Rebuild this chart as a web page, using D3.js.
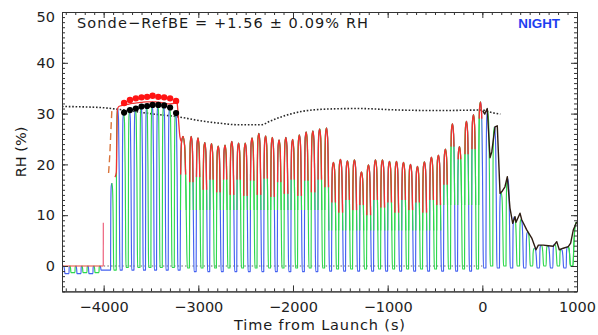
<!DOCTYPE html>
<html><head><meta charset="utf-8">
<script src="https://cdn.jsdelivr.net/npm/d3@7"></script>
<style>
body{margin:0;background:#fff;}
svg{display:block;}
text{font-family:"DejaVu Sans",sans-serif;}
</style></head><body>
<svg id="c" width="598" height="335"></svg>
<script>
// ---------------- data ----------------
const xDomain = [-4440, 1000];
const yDomain = [-5, 50];
const xTickValues = [-4000, -3000, -2000, -1000, 0, 1000];
const yTickValues = [0, 10, 20, 30, 40, 50];
const titleText = "Sonde\u2212RefBE = +1.56 \u00b1 0.09% RH";
const nightText = "NIGHT";
const xLabel = "Time from Launch (s)";
const yLabel = "RH (%)";

// humidity sensor trace: dips (heating cycles) and the peak reached after each dip
const traceStartLevel = 0;
const traceEnd = 1000;
const dipTime = [
  -4387, -4324, -4260, -4197, -4134, -4070,
  -3977, -3880,
  -3816, -3752, -3692, -3629, -3570, -3513, -3453, -3393, -3330, -3266, -3204,
  -3105, -3034, -2962, -2891, -2820, -2748, -2677, -2605, -2534, -2463, -2391,
  -2320, -2248, -2177, -2106, -2034, -1963, -1891, -1820, -1749, -1677,
  -1604, -1530, -1456, -1382, -1308, -1234, -1160, -1086, -1012, -938, -864,
  -790, -716, -643, -569, -495, -421, -347, -273, -199, -125, -51,
  25, 97, 168, 237, 308, 380, 449, 520, 592, 661, 732, 804, 873, 944
];
const dipHalf = [
  21, 21, 21, 21, 21, 21,
  50, 13,
  12, 12, 12, 12, 12, 12, 12, 12, 12, 12, 12,
  11, 11, 11, 11, 11, 11, 11, 11, 11, 11, 11, 11, 11, 11, 11, 11, 11, 11, 11, 11, 11,
  11, 11, 11, 11, 11, 11, 11, 11, 11, 11, 11, 11, 11, 11, 11, 11, 11, 11, 11, 11, 11, 11,
  13, 13, 13, 13, 13, 13, 13, 13, 13, 13, 13, 13, 13, 13
];
const dipLow = [
  -1.5, -1.3, -1.5, -1.3, -1.5, -1.3,
  -0.8, -0.8,
  -0.8, -0.3, -0.8, -0.3, -0.8, -0.3, -0.8, -0.3, -0.8, -0.3, -0.8,
  -0.4, -1.1, -0.4, -1.1, -0.4, -1.1, -0.4, -1.1, -0.4, -1.1, -0.4, -1.1, -0.4, -1.1, -0.4, -1.1, -0.4, -1.1, -0.4, -1.1, -0.4,
  -1.0, -0.6, -1.0, -0.6, -1.0, -0.6, -1.0, -0.6, -1.0, -0.6, -1.0, -0.6, -1.0, -0.6, -1.0, -0.6, -1.0, -0.6, -1.0, -0.6, -1.0, -0.6,
  -0.4, 0.0, -0.4, 0.0, -0.4, 0.0, -0.4, 0.0, -0.4, 0.0, -0.4, 0.0, -0.4, 0.0
];
const peakAfter = [
  0, 0, 0, 0, 0, 0,
  16.3, 31.0,
  30.2, 30.7, 31.0, 31.4, 31.5, 31.7, 31.7, 31.6, 31.2, 30.1, 25.5,
  25.5, 25.2, 24.3, 24.1, 23.6, 23.8, 24.5, 24.2, 24.2, 25.2, 26.1, 25.6, 25.3, 24.8, 25.3, 24.9, 25.8, 26.4, 26.6, 27.0, 27.2,
  20.4, 21.0, 20.7, 20.9, 18.5, 19.9, 20.9, 20.9, 20.6, 20.6, 20.4, 20.0, 19.6, 20.5, 21.4, 21.8, 23.0, 28.0, 23.5, 28.5, 29.8, 32.3,
  30.5, 27.4, 14.5, 17.2, 9.7, 9.2, 6.7, 3.5, 4.1, 4.0, 4.3, 3.3, 3.8, 8.5
];

// level above which each pulse (after dip index redPulseFirst + k) is drawn red
const redPulseFirst = 18;
const redPulseFrom = [
  18.0, 16.5, 17.5, 15.0, 17.0, 14.5, 17.0, 14.0, 17.0, 13.8, 16.8, 14.0, 17.2, 13.6, 16.5, 14.2, 17.0, 13.8, 16.8, 14.5, 17.0, 15.5,
  12.5, 10.5, 13.0, 11.0, 12.0, 10.0, 13.0, 11.5, 12.5, 10.5, 13.0, 11.0, 12.5, 10.5, 13.0, 12.0,
  16.0, 23.5, 21.0, 22.0, 23.0, 29.0
];
// levels above which all lines are green (below: alternating sensors)
const greenZoneStart = [-3195, -1630, -420];
const greenZoneEnd = [-1630, -420, -10];
const greenZoneFrom = [11, 7, 12];

// red reported-RH line before the profile
const redBaseT = [-4440, -4005];
const redBaseV = [0, 0];
const spikeT = [-4004, -4003];
const spikeV = [0, 8.5];
const redEnvT = [-3880, -3866, -3855, -3840, -3800, -3750, -3700, -3650, -3600, -3550, -3500, -3450, -3400, -3350, -3300, -3260, -3235, -3222, -3210, -3195, -3180];
const redEnvV = [17.5, 18.5, 30.8, 31.4, 31.6, 31.8, 32.0, 32.1, 32.2, 32.3, 32.3, 32.3, 32.2, 32.0, 31.9, 32.0, 32.6, 31.8, 29.0, 25.5, 24.5];

// dashed line
const dashT = [-3948, -3935, -3925, -3912];
const dashV = [18.3, 22.0, 26.0, 31.2];

// dotted reference line
const refT = [-4440, -4039, -3827, -3510, -3194, -2982, -2771, -2581, -2338, -2232, -2084, -1915, -1630, -1313, -870, -447, -4, 100, 190];
const refV = [31.4, 31.2, 30.8, 30.0, 29.3, 28.6, 28.1, 27.8, 27.8, 28.6, 29.6, 30.4, 30.9, 31.0, 30.7, 30.6, 30.7, 30.2, 29.9];

// dotted zero line
const zeroT = [-4000, 0];
const zeroV = [0, 0];

// post-launch line
const postT = [4, 25, 52, 81, 100, 134, 158, 187, 205, 239, 264, 292, 321, 345, 356, 398, 416, 469, 522, 567, 592, 645, 697, 750, 786, 813, 855, 908, 933, 961, 997];
const postV = [30.6, 29.9, 31.0, 21.3, 22.5, 27.4, 27.6, 14.3, 14.6, 15.6, 17.6, 11.4, 8.4, 9.7, 8.6, 10.4, 9.1, 7.1, 5.5, 3.2, 4.1, 4.1, 4.0, 3.9, 4.8, 3.2, 3.5, 3.8, 4.5, 7.1, 8.7];

// plateau dots
const dotT = [-3784, -3722, -3660, -3600, -3541, -3483, -3423, -3361, -3298, -3235];
const redDotV = [32.1, 32.7, 33.0, 33.2, 33.3, 33.5, 33.3, 33.2, 33.0, 32.5];
const blackDotV = [30.2, 30.7, 31.0, 31.4, 31.5, 31.7, 31.7, 31.6, 31.2, 30.1];

// ---------------- drawing ----------------
const svg = d3.select("#c");
const m = {l: 62, r: 577, t: 12, b: 291.4};
const x = d3.scaleLinear().domain(xDomain).range([m.l, m.r]);
const y = d3.scaleLinear().domain(yDomain).range([m.b, m.t]);

const BLUE = "#4462f0", GREEN = "#2ed84e", RED = "#f23030";

const defs = svg.append("defs");
defs.append("clipPath").attr("id", "plotClip").append("rect")
  .attr("x", m.l).attr("y", m.t).attr("width", m.r - m.l).attr("height", m.b - m.t);
const gcp = defs.append("clipPath").attr("id", "greenClip");
greenZoneStart.forEach((t0, i) => {
  gcp.append("rect").attr("x", x(t0)).attr("y", m.t)
    .attr("width", x(greenZoneEnd[i]) - x(t0)).attr("height", y(greenZoneFrom[i]) - m.t);
});
const rcp = defs.append("clipPath").attr("id", "redClip");
redPulseFrom.forEach((lev, k) => {
  const i = redPulseFirst + k;
  const t0 = dipTime[i], t1 = dipTime[i + 1];
  rcp.append("rect").attr("x", x(t0)).attr("y", m.t)
    .attr("width", x(t1) - x(t0)).attr("height", y(lev) - m.t);
});

// build sensor trace
const n = dipTime.length;
const pts = [], tops = [];
for (let i = 0; i <= n; i++) {
  const a = i === 0 ? xDomain[0] : dipTime[i - 1] + dipHalf[i - 1];
  const p = i === 0 ? traceStartLevel : peakAfter[i - 1];
  const l0 = i === 0 ? traceStartLevel : dipLow[i - 1];
  if (i < n) {
    const b = dipTime[i] - dipHalf[i];
    const l1 = dipLow[i];
    const w = b - a, d0 = p - l0, d1 = p - l1;
    [[a, l0], [a + 0.07 * w, l0 + 0.72 * d0], [a + 0.2 * w, p - 0.04 * d0], [a + 0.4 * w, p],
     [a + 0.62 * w, p - 0.07 * d1], [a + 0.8 * w, l1 + 0.6 * d1], [a + 0.93 * w, l1 + 0.12 * d1], [b, l1]]
      .forEach(q => pts.push(q));
    tops.push(a + 0.4 * w);
  } else {
    [[a, l0], [a + 12, l0 + 0.6 * (p - l0)], [a + 30, p], [traceEnd, p]].forEach(q => pts.push(q));
    tops.push(traceEnd);
  }
}

const curveLine = d3.line().x(d => x(d[0])).y(d => y(d[1])).curve(d3.curveMonotoneX);
const straight = d3.line().x(d => x(d[0])).y(d => y(d[1]));
const zip = (T, V) => T.map((t, i) => [t, V[i]]);

const plot = svg.append("g").attr("clip-path", "url(#plotClip)");

// dotted zero line
plot.append("path").attr("d", straight(zip(zeroT, zeroV)))
  .attr("fill", "none").attr("stroke", "#9a9a9a").attr("stroke-width", 1.3)
  .attr("stroke-dasharray", "1.5,2.2");

// dotted reference line
plot.append("path").attr("d", curveLine(zip(refT, refV)))
  .attr("fill", "none").attr("stroke", "#2a2a2a").attr("stroke-width", 1.6)
  .attr("stroke-dasharray", "1.6,1.8");

// trace segments, one per dip, alternating sensors
const segG = plot.append("g");
for (let i = 0; i < n; i++) {
  const s = pts.filter(q => q[0] >= tops[i] - 1e-6 && q[0] <= tops[i + 1] + 1e-6);
  segG.append("path").attr("d", curveLine(s))
    .attr("fill", "none").attr("stroke", i % 2 === 0 ? BLUE : GREEN)
    .attr("stroke-width", 1.15).attr("stroke-linejoin", "round");
}
{
  const s = pts.filter(q => q[0] >= tops[n - 1] - 1e-6);
  segG.append("path").attr("d", curveLine(s)).attr("fill", "none")
    .attr("stroke", GREEN).attr("stroke-width", 1.15);
}
// green overlay
plot.append("g").attr("clip-path", "url(#greenClip)").append("path")
  .attr("d", curveLine(pts)).attr("fill", "none").attr("stroke", GREEN).attr("stroke-width", 1.15);
// red overlay
plot.append("g").attr("clip-path", "url(#redClip)").append("path")
  .attr("d", curveLine(pts)).attr("fill", "none").attr("stroke", RED).attr("stroke-width", 1.35);

// red base line and spike
plot.append("path").attr("d", straight(zip(redBaseT, redBaseV)))
  .attr("fill", "none").attr("stroke", "#e84a3a").attr("stroke-width", 1.2);
plot.append("path").attr("d", straight(zip(spikeT, spikeV)))
  .attr("fill", "none").attr("stroke", "#ee6f88").attr("stroke-width", 1.3);
// red plateau envelope
plot.append("path").attr("d", curveLine(zip(redEnvT, redEnvV)))
  .attr("fill", "none").attr("stroke", RED).attr("stroke-width", 1.3);
// dashed
plot.append("path").attr("d", curveLine(zip(dashT, dashV)))
  .attr("fill", "none").attr("stroke", "#d9743c").attr("stroke-width", 1.4)
  .attr("stroke-dasharray", "7,4");
// post-launch line
plot.append("path").attr("d", straight(zip(postT, postV)))
  .attr("fill", "none").attr("stroke", "#2e1c12").attr("stroke-width", 1.4)
  .attr("stroke-linejoin", "round");

// dots
plot.selectAll("circle.rd").data(zip(dotT, redDotV)).join("circle").attr("class", "rd")
  .attr("cx", d => x(d[0])).attr("cy", d => y(d[1])).attr("r", 3.2).attr("fill", "#ff1414");
plot.selectAll("circle.bd").data(zip(dotT, blackDotV)).join("circle").attr("class", "bd")
  .attr("cx", d => x(d[0])).attr("cy", d => y(d[1])).attr("r", 3.1).attr("fill", "#000");

// ---------------- axes ----------------
const axColor = "#333";
function styleAxis(g) {
  g.selectAll("path.domain").attr("stroke", axColor).attr("stroke-width", 1);
  g.selectAll(".tick line").attr("stroke", axColor).attr("stroke-width", 1);
  g.selectAll(".tick text").attr("fill", "#1e1e1e").style("font-size", "14.5px")
    .style("font-family", "'DejaVu Sans', sans-serif");
}
const xMinor = d3.range(-4400, 1001, 100);
const yMinor = d3.range(-5, 51, 1);
const fmt = d3.format("d");

svg.append("g").attr("transform", `translate(0,${m.b})`)
  .call(d3.axisBottom(x).tickValues(xMinor).tickSizeInner(-3).tickSizeOuter(0).tickFormat("")).call(styleAxis);
svg.append("g").attr("transform", `translate(0,${m.b})`)
  .call(d3.axisBottom(x).tickValues(xTickValues).tickSizeInner(-6).tickSizeOuter(0).tickPadding(10.5).tickFormat(fmt)).call(styleAxis);
svg.append("g").attr("transform", `translate(0,${m.t})`)
  .call(d3.axisTop(x).tickValues(xMinor).tickSizeInner(-3).tickSizeOuter(0).tickFormat("")).call(styleAxis);
svg.append("g").attr("transform", `translate(0,${m.t})`)
  .call(d3.axisTop(x).tickValues(xTickValues).tickSizeInner(-6).tickSizeOuter(0).tickFormat("")).call(styleAxis);

svg.append("g").attr("transform", `translate(${m.l},0)`)
  .call(d3.axisLeft(y).tickValues(yMinor).tickSizeInner(-3).tickSizeOuter(0).tickFormat("")).call(styleAxis);
const yl = svg.append("g").attr("transform", `translate(${m.l},0)`)
  .call(d3.axisLeft(y).tickValues(yTickValues).tickSizeInner(-6).tickSizeOuter(0).tickPadding(7).tickFormat(fmt)).call(styleAxis);
yl.selectAll(".tick text").filter(d => d === 50).attr("dy", "0.62em");
svg.append("g").attr("transform", `translate(${m.r},0)`)
  .call(d3.axisRight(y).tickValues(yMinor).tickSizeInner(-3).tickSizeOuter(0).tickFormat("")).call(styleAxis);
svg.append("g").attr("transform", `translate(${m.r},0)`)
  .call(d3.axisRight(y).tickValues(yTickValues).tickSizeInner(-6).tickSizeOuter(0).tickFormat("")).call(styleAxis);

// ---------------- texts ----------------
svg.append("text").attr("x", 77).attr("y", 28.3).text(titleText)
  .attr("fill", "#1a1a1a").style("font-size", "14.5px")
  .attr("textLength", 291).attr("lengthAdjust", "spacing");
svg.append("text").attr("x", 518.3).attr("y", 28.2).text(nightText)
  .attr("fill", "#1e3ef0").style("font-size", "13.5px").style("font-weight", "bold")
  .style("font-family", "'Liberation Sans', Arial, sans-serif")
  .attr("textLength", 41.7).attr("lengthAdjust", "spacingAndGlyphs");
svg.append("text").attr("x", 319.5).attr("y", 330).attr("text-anchor", "middle").text(xLabel)
  .attr("fill", "#1a1a1a").style("font-size", "14.5px")
  .attr("textLength", 171).attr("lengthAdjust", "spacing");
svg.append("text").attr("transform", "translate(25.5,152) rotate(-90)").attr("text-anchor", "middle")
  .text(yLabel).attr("fill", "#1a1a1a").style("font-size", "14.5px");
</script>
</body></html>
